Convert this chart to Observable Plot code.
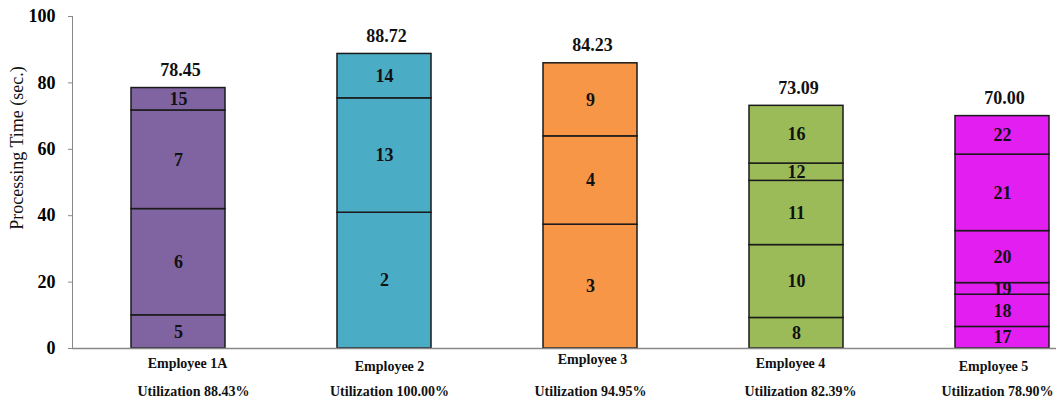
<!DOCTYPE html>
<html>
<head>
<meta charset="utf-8">
<script src="https://cdn.jsdelivr.net/npm/d3@7"></script>
<script src="https://cdn.jsdelivr.net/npm/@observablehq/plot@0.6"></script>
<style>
  html, body { margin: 0; padding: 0; background: #fff; }
  #chart { width: 1056px; height: 406px; overflow: hidden; }
  svg { font-family: "Liberation Serif", "Times New Roman", serif; }
</style>
</head>
<body>
<div id="chart"></div>
<script>
const employees = ["Employee 1A", "Employee 2", "Employee 3", "Employee 4", "Employee 5"];
const utilization = ["Utilization 88.43%", "Utilization 100.00%", "Utilization 94.95%", "Utilization 82.39%", "Utilization 78.90%"];
const totalLabels = ["78.45", "88.72", "84.23", "73.09", "70.00"];
const colors = ["#8064A2", "#4BACC6", "#F79646", "#9BBB59", "#E21FF0"];

const tasksEmp1A = [5, 6, 7, 15];
const timesEmp1A = [10.0, 32.0, 29.7, 6.75];
const tasksEmp2 = [2, 13, 14];
const timesEmp2 = [40.9, 34.45, 13.37];
const tasksEmp3 = [3, 4, 9];
const timesEmp3 = [37.3, 26.6, 22.0];
const tasksEmp4 = [8, 10, 11, 12, 16];
const timesEmp4 = [9.2, 21.95, 19.35, 5.2, 17.39];
const tasksEmp5 = [17, 18, 19, 20, 21, 22];
const timesEmp5 = [6.5, 9.7, 3.5, 15.66, 23.04, 11.6];

const yTicks = [0, 20, 40, 60, 80, 100];
const yLabel = "Processing Time (sec.)";

// label placement tweaks (pixels), styling only
const nameShift = [9, 5, 2, -6, -9];
const nameDy = [19, 22, 15, 19, 22];
const utilShift = [15, 5, 0, 4, -5];
const utilDy = 47;

const groups = [
  [tasksEmp1A, timesEmp1A],
  [tasksEmp2, timesEmp2],
  [tasksEmp3, timesEmp3],
  [tasksEmp4, timesEmp4],
  [tasksEmp5, timesEmp5]
];
const segments = groups.flatMap(([tasks, times], gi) =>
  tasks.map((t, i) => ({employee: employees[gi], task: String(t), time: times[i]}))
);
const summary = employees.map((e, i) => ({
  employee: e,
  top: d3.sum(groups[i][1]),
  label: totalLabels[i],
  util: utilization[i]
}));

const labelFont = {fontSize: 14, fontWeight: "bold", fill: "#111"};

const chart = Plot.plot({
  width: 1056,
  height: 406,
  marginLeft: 72,
  marginRight: 0,
  marginTop: 16,
  marginBottom: 58,
  style: {fontFamily: "'Liberation Serif', 'Times New Roman', serif", background: "#fff", overflow: "visible"},
  x: {domain: employees, range: [74.7, 1104.7], paddingInner: 0.546, paddingOuter: 0.273, axis: null},
  y: {domain: [0, 100], axis: null},
  color: {domain: employees, range: colors},
  marks: [
    Plot.barY(segments, Plot.stackY({x: "employee", y: "time", fill: "employee", stroke: "#1a1a1a", strokeWidth: 1.5, order: null})),
    Plot.frame({anchor: "left", stroke: "#888"}),
    Plot.ruleY([0], {stroke: "#888", strokeWidth: 1.3}),
    Plot.axisY({ticks: yTicks, tickSize: 4, tickPadding: 13, stroke: "#888", fontSize: 18, fontWeight: "bold", fill: "#000", label: null}),
    Plot.text(segments, Plot.stackY({x: "employee", y: "time", text: "task", fontSize: 18, fontWeight: "bold", fill: "#111", order: null})),
    Plot.text(summary, {x: "employee", y: "top", text: "label", dy: -18, dx: 2, fontSize: 18, fontWeight: "bold", fill: "#111"}),
    ...summary.map((d, i) => Plot.text([d], {x: "employee", frameAnchor: "bottom", text: "employee", dx: nameShift[i], dy: nameDy[i], ...labelFont})),
    ...summary.map((d, i) => Plot.text([d], {x: "employee", frameAnchor: "bottom", text: "util", dx: utilShift[i], dy: utilDy, ...labelFont})),
    Plot.text([yLabel], {frameAnchor: "left", text: d => d, rotate: -90, textAnchor: "middle", dx: -55, dy: -34.5, fontSize: 18, fill: "#111"})
  ]
});
document.getElementById("chart").appendChild(chart);
</script>
</body>
</html>
